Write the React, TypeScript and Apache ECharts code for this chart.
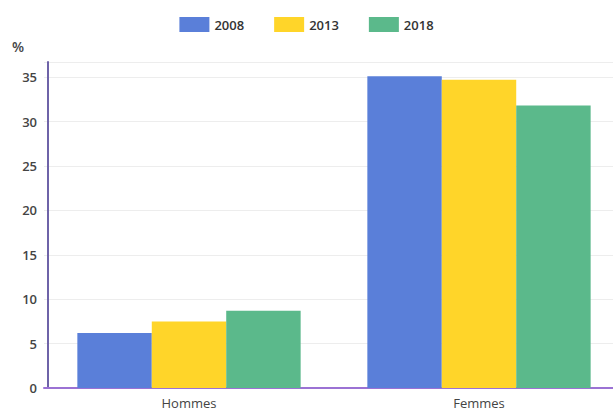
import React, { useEffect, useRef } from "react";
import * as echarts from "echarts";

const categories = ["Hommes", "Femmes"];
const years = ["2008", "2013", "2018"];
const values2008 = [6.2, 35.1];
const values2013 = [7.5, 34.7];
const values2018 = [8.7, 31.8];
const colors = ["#5A7FD9", "#FFD529", "#5BB98B"];

export default function App() {
  const ref = useRef<HTMLDivElement>(null);
  useEffect(() => {
    const chart = echarts.init(ref.current!, null, { renderer: "svg" });
    const seriesData = [values2008, values2013, values2018];
    chart.setOption({
      animation: false,
      backgroundColor: "#ffffff",
      textStyle: { fontFamily: "Open Sans" },
      legend: {
        top: 12,
        left: "center",
        itemWidth: 30,
        itemHeight: 15,
        itemGap: 30,
        icon: "rect",
        textStyle: { fontSize: 13, fontWeight: 600, color: "#333" },
        data: years,
      },
      grid: { left: 44, width: 580, top: 62, bottom: 25, outerBoundsMode: "none", containLabel: false },
      xAxis: {
        type: "category",
        data: categories,
        axisLine: { lineStyle: { color: "#9B72D4", width: 2 } },
        axisTick: { show: false },
        axisLabel: { fontSize: 13, color: "#444", margin: 8 },
      },
      yAxis: {
        type: "value",
        min: 0,
        max: 36.7,
        interval: 5,
        offset: -4,
        name: "%",
        nameLocation: "end",
        nameGap: 9,
        nameTextStyle: { fontSize: 14, fontWeight: 600, color: "#444", align: "right", padding: [0, 24, 0, 0] },
        axisLine: { show: true, lineStyle: { color: "#6E63A8", width: 2 } },
        axisTick: { show: false },
        axisLabel: { fontSize: 13, fontWeight: 600, color: "#444", margin: 11, showMaxLabel: false },
        splitLine: { lineStyle: { color: "#EDEDED" } },
      },
      series: years.map((y, i) => ({
        name: y,
        type: "bar",
        data: seriesData[i],
        itemStyle: { color: colors[i] },
        barGap: "0%",
        barCategoryGap: "23%",
      })),
    });
    return () => chart.dispose();
  }, []);
  return <div ref={ref} style={{ width: 613, height: 413, position: "absolute", left: 0, top: 0 }} />;
}
